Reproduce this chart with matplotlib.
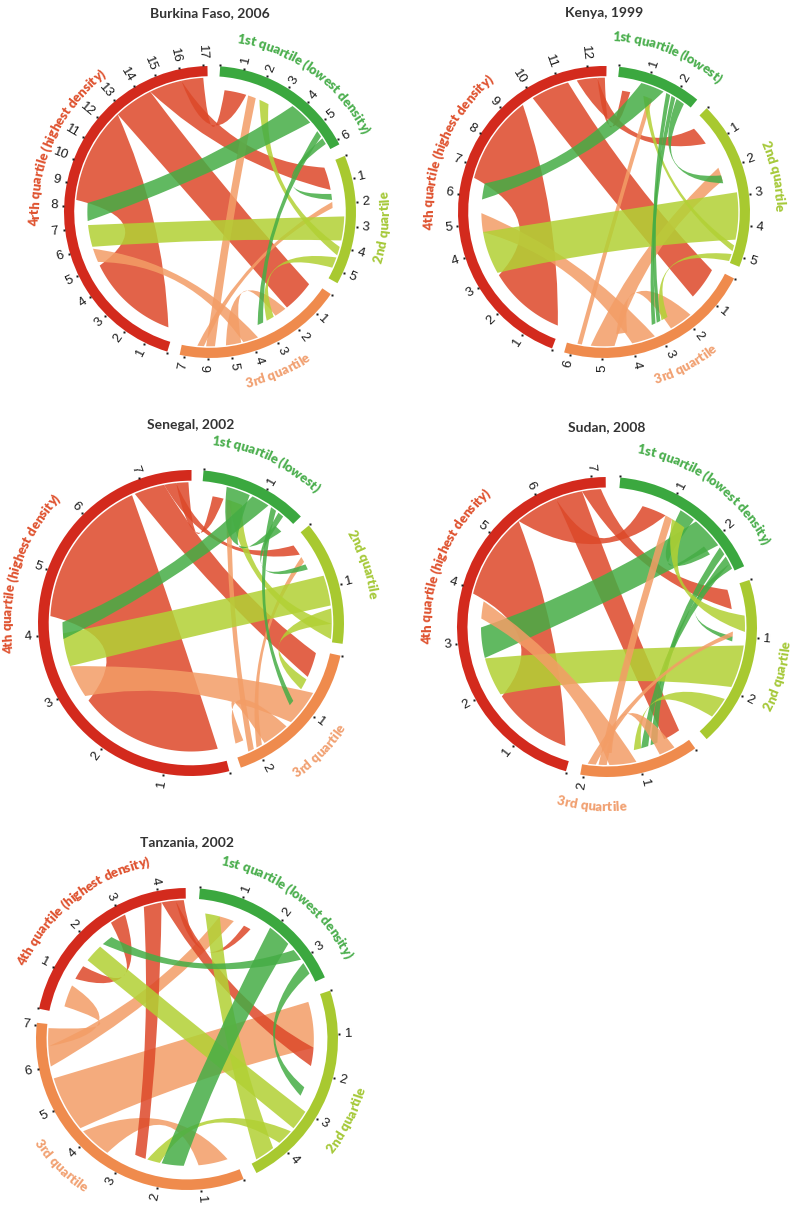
import numpy as np
import matplotlib.pyplot as plt
from matplotlib.path import Path
from matplotlib.patches import PathPatch, Wedge
from matplotlib.font_manager import FontProperties, findfont, get_font

W, H = 790, 1210

# === Data ===
# segment lengths in tick units, order: 1st, 2nd, 3rd, 4th quartile
# link = (source q, source start, source end, target q, target start, target end)
titles = ["Burkina Faso, 2006", "Kenya, 1999", "Senegal, 2002", "Sudan, 2008", "Tanzania, 2002"]

burkina_sizes = [6.2, 5.5, 7.2, 17.2]
burkina_labels = ["1st quartile (lowest density)", "2nd quartile", "3rd quartile",
                  "4rth quartile (highest density)"]
burkina_links = [
    (4, 8.3, 12.7, 4, 0.3, 5.0),
    (4, 12.7, 14.5, 3, 0.2, 1.8),
    (4, 14.5, 16.0, 2, 0.15, 1.3),
    (4, 16.0, 17.0, 1, 0.3, 1.4),
    (3, 3.7, 4.4, 4, 5.2, 5.9),
    (3, 5.7, 6.1, 1, 1.5, 1.9),
    (3, 6.2, 6.5, 2, 1.9, 2.2),
    (3, 4.5, 5.2, 3, 1.9, 2.5),
    (2, 2.6, 3.7, 4, 6.0, 7.1),
    (2, 4.0, 4.4, 1, 2.1, 2.6),
    (2, 4.5, 5.0, 3, 2.6, 3.0),
    (1, 3.6, 4.7, 4, 7.3, 8.2),
    (1, 5.2, 5.5, 3, 3.2, 3.5),
    (1, 5.6, 5.9, 2, 1.5, 1.8),
]

kenya_sizes = [2.65, 5.3, 6.2, 12.6]
kenya_labels = ["1st quartile (lowest)", "2nd quartile", "3rd quartile",
                "4th quartile (highest density)"]
kenya_links = [
    (4, 6.6, 9.6, 4, 0.1, 3.0),
    (4, 10.0, 11.3, 3, 0.1, 1.3),
    (4, 11.6, 12.3, 2, 0.2, 0.9),
    (4, 12.3, 12.55, 1, 0.2, 0.5),
    (3, 3.2, 4.0, 4, 4.7, 5.4),
    (3, 4.6, 5.4, 2, 1.9, 2.4),
    (3, 5.7, 5.85, 1, 1.2, 1.35),
    (3, 1.8, 2.6, 3, 4.1, 4.5),
    (2, 2.9, 4.5, 4, 3.1, 4.7),
    (2, 4.7, 4.9, 1, 1.0, 1.2),
    (2, 5.0, 5.25, 3, 2.5, 2.75),
    (1, 0.8, 1.6, 4, 5.9, 6.5),
    (1, 1.7, 1.85, 3, 2.8, 2.95),
    (1, 1.9, 2.05, 3, 3.0, 3.15),
    (1, 2.1, 2.4, 2, 2.2, 2.5),
]

senegal_sizes = [1.65, 1.9, 2.35, 7.8]
senegal_labels = ["1st quartile (lowest)", "2nd quartile", "3rd quartile",
                  "4th quartile (highest density)"]
senegal_links = [
    (4, 4.3, 6.8, 4, 0.1, 2.7),
    (4, 6.85, 7.35, 3, 0.05, 0.5),
    (4, 7.35, 7.55, 2, 0.1, 0.3),
    (4, 7.55, 7.75, 1, 0.2, 0.4),
    (3, 0.7, 1.3, 4, 2.8, 3.4),
    (3, 1.9, 2.0, 2, 0.35, 0.45),
    (3, 2.05, 2.15, 1, 0.45, 0.55),
    (3, 1.4, 1.85, 3, 2.15, 2.3),
    (2, 0.8, 1.3, 4, 3.4, 4.0),
    (2, 1.35, 1.6, 3, 0.55, 0.75),
    (2, 1.6, 1.85, 1, 0.5, 0.75),
    (1, 0.85, 1.15, 4, 3.9, 4.2),
    (1, 1.2, 1.3, 3, 1.0, 1.1),
    (1, 1.35, 1.45, 2, 0.5, 0.6),
    (1, 0.4, 0.8, 1, 1.45, 1.6),
]

sudan_sizes = [2.7, 2.95, 2.05, 7.24]
sudan_labels = ["1st quartile (lowest density)", "2nd quartile", "3rd quartile",
                "4th quartile (highest density)"]
sudan_links = [
    (4, 3.9, 5.5, 4, 0.15, 1.8),
    (4, 5.5, 6.3, 1, 0.5, 1.0),
    (4, 6.3, 6.8, 3, 0.05, 0.4),
    (4, 6.8, 7.15, 2, 0.05, 0.45),
    (1, 1.55, 2.15, 4, 2.65, 3.27),
    (1, 2.2, 2.35, 3, 0.55, 0.7),
    (1, 2.4, 2.55, 3, 0.75, 0.9),
    (1, 2.55, 2.65, 2, 1.0, 1.1),
    (1, 1.2, 1.5, 1, 2.0, 2.2),
    (2, 1.15, 1.95, 4, 1.85, 2.64),
    (2, 0.6, 0.9, 1, 1.15, 1.45),
    (2, 2.2, 2.6, 3, 0.9, 1.05),
    (3, 1.05, 1.55, 4, 3.45, 3.8),
    (3, 1.6, 1.75, 1, 1.0, 1.15),
    (3, 1.8, 1.95, 2, 0.9, 1.0),
    (3, 0.3, 0.6, 3, 1.5, 1.6),
]

tanzania_sizes = [3.64, 4.85, 7.05, 4.65]
tanzania_labels = ["1st quartile (lowest density)", "2nd quartile", "3rd quartile",
                   "4th quartile (highest density)"]
tanzania_links = [
    (3, 4.3, 5.7, 2, 0.1, 1.35),
    (3, 6.0, 6.5, 1, 0.6, 1.0),
    (3, 6.5, 6.95, 4, 0.2, 0.8),
    (3, 3.4, 4.2, 3, 0.2, 1.0),
    (4, 3.6, 4.05, 3, 2.45, 2.75),
    (4, 4.05, 4.4, 2, 1.35, 1.85),
    (4, 4.4, 4.6, 1, 1.3, 1.5),
    (4, 2.7, 3.1, 4, 1.0, 1.4),
    (2, 3.0, 3.5, 4, 1.6, 2.1),
    (2, 3.6, 4.0, 3, 2.05, 2.4),
    (2, 4.2, 4.7, 1, 0.2, 0.6),
    (1, 1.9, 2.5, 3, 1.4, 2.0),
    (1, 2.7, 3.0, 4, 2.2, 2.5),
    (1, 3.1, 3.4, 2, 2.45, 2.7),
]

# === Style / layout ===
arc_colors = ["#3ba83f", "#a8c930", "#ef8b4d", "#d32a1d"]
ribbon_colors = ["#45ad45", "#b2d134", "#f39d66", "#dd4829"]
label_colors = ["#4caf4f", "#a6c93a", "#f1a172", "#df5330"]

# panel: centre x, centre y, radius (px), gap (deg), first segment start (deg), title y
panels = [
    (210, 212, 146, 5.0, 4.0, 13),
    (604, 212, 146, 5.0, 6.0, 13),
    (191, 623, 153, 4.5, 4.7, 425),
    (607, 627, 150, 5.6, 5.1, 427),
    (187, 1039, 151, 5.4, 4.9, 842),
]
label_angles = [
    [36, 95, 157, 294],
    [22, 78, 152, 292],
    [25, 71, 135, 287],
    [36, 106, 185, 291.5],
    [37, 117, 225, 321],
]
charts = [
    (burkina_sizes, burkina_links, burkina_labels),
    (kenya_sizes, kenya_links, kenya_labels),
    (senegal_sizes, senegal_links, senegal_labels),
    (sudan_sizes, sudan_links, sudan_labels),
    (tanzania_sizes, tanzania_links, tanzania_labels),
]

tick_fp = FontProperties(family="Liberation Sans", size=9.5)
lab_fp = FontProperties(family="Lato", weight="heavy", size=9.5)
R_OUT, R_IN, R_SRC, R_DST = 1.0, 0.93, 0.92, 0.84
L = 1.35


def pos(theta, r):
    t = np.radians(theta)
    return r * np.sin(t), r * np.cos(t)


def arc_pts(r, t0, t1):
    n = max(2, int(abs(t1 - t0) / 1.5) + 2)
    return [pos(t, r) for t in np.linspace(t0, t1, n)]


def control(p0, p1, t0, t1):
    # pull the chord midpoint towards the centre, more for short chords
    d = abs((t1 - t0 + 180) % 360 - 180)
    k = 0.3 + 0.6 * d / 180
    return ((p0[0] + p1[0]) / 2 * k, (p0[1] + p1[1]) / 2 * k)


def ribbon(ax, a0, a1, b0, b1, color, z):
    verts = arc_pts(R_SRC, a0, a1)
    codes = [Path.MOVETO] + [Path.LINETO] * (len(verts) - 1)
    pb0 = pos(b0, R_DST)
    verts += [control(verts[-1], pb0, a1, b0), pb0]
    codes += [Path.CURVE3, Path.CURVE3]
    pts = arc_pts(R_DST, b0, b1)[1:]
    verts += pts
    codes += [Path.LINETO] * len(pts)
    pa0 = pos(a0, R_SRC)
    verts += [control(pts[-1], pa0, b1, a0), pa0, (0, 0)]
    codes += [Path.CURVE3, Path.CURVE3, Path.CLOSEPOLY]
    ax.add_patch(PathPatch(Path(verts, codes), facecolor=color, edgecolor="none",
                           alpha=0.85, zorder=z))


def curved_label(ax, text, theta_c, r, R_px, color):
    font = get_font(findfont(lab_fp))
    font.set_size(lab_fp.get_size_in_points(), 72)
    adv = np.array([font.load_char(ord(c)).linearHoriAdvance / 65536 for c in text])
    adv = adv * (100 / 72) / R_px / r  # radians
    cum = np.cumsum(adv) - adv / 2 - adv.sum() / 2
    upper = theta_c < 90 or theta_c > 270
    for c, off in zip(text, np.degrees(cum)):
        th = theta_c + off if upper else theta_c - off
        rot = -th if upper else 180 - th
        x, y = pos(th, r)
        ax.text(x, y, c, fontproperties=lab_fp, color=color, ha="center",
                va="center", rotation=rot)


fig = plt.figure(figsize=(W / 100, H / 100), dpi=100)

for (sizes, links, labels), (cx, cy, R, gap, start, ty), langs, title in zip(
        charts, panels, label_angles, titles):
    ax = fig.add_axes([(cx - L * R) / W, 1 - (cy + L * R) / H, 2 * L * R / W, 2 * L * R / H])
    ax.set_xlim(-L, L)
    ax.set_ylim(-L, L)
    ax.axis("off")

    dpu = (360 - 4 * gap) / sum(sizes)
    starts = start + np.concatenate([[0], np.cumsum(np.array(sizes) * dpu + gap)[:-1]])

    def ang(q, p):
        return starts[q - 1] + p * dpu

    for i, (sq, s0, s1, dq, d0, d1) in enumerate(links):
        ribbon(ax, ang(sq, s0), ang(sq, s1), ang(dq, d0), ang(dq, d1),
               ribbon_colors[sq - 1], 1 + i * 0.01)

    for q, size in enumerate(sizes, start=1):
        t0, t1 = ang(q, 0), ang(q, size)
        ax.add_patch(Wedge((0, 0), R_OUT, 90 - t1, 90 - t0, width=R_OUT - R_IN,
                           facecolor=arc_colors[q - 1], edgecolor="none", zorder=3))
        for k in range(int(np.floor(size + 1e-6)) + 1):
            th = ang(q, k)
            x, y = pos(th, R_OUT + 0.01)
            ax.plot(x, y, marker="s", ms=1.6, color="#1a1a1a", mec="none", zorder=4)
            if k == 0:
                continue
            x, y = pos(th, 1.045)
            if th % 360 <= 180:
                ax.text(x, y, str(k), fontproperties=tick_fp, rotation=90 - th,
                        rotation_mode="anchor", ha="left", va="center", color="#1a1a1a")
            else:
                ax.text(x, y, str(k), fontproperties=tick_fp, rotation=270 - th,
                        rotation_mode="anchor", ha="right", va="center", color="#1a1a1a")
        curved_label(ax, labels[q - 1], langs[q - 1], 1.2, R, label_colors[q - 1])

    fig.text(cx / W, 1 - ty / H, title, ha="center", va="center", fontsize=10,
             fontweight="bold", family="Lato", color="#333333")

fig.savefig("out.png", dpi=100, facecolor="white")
